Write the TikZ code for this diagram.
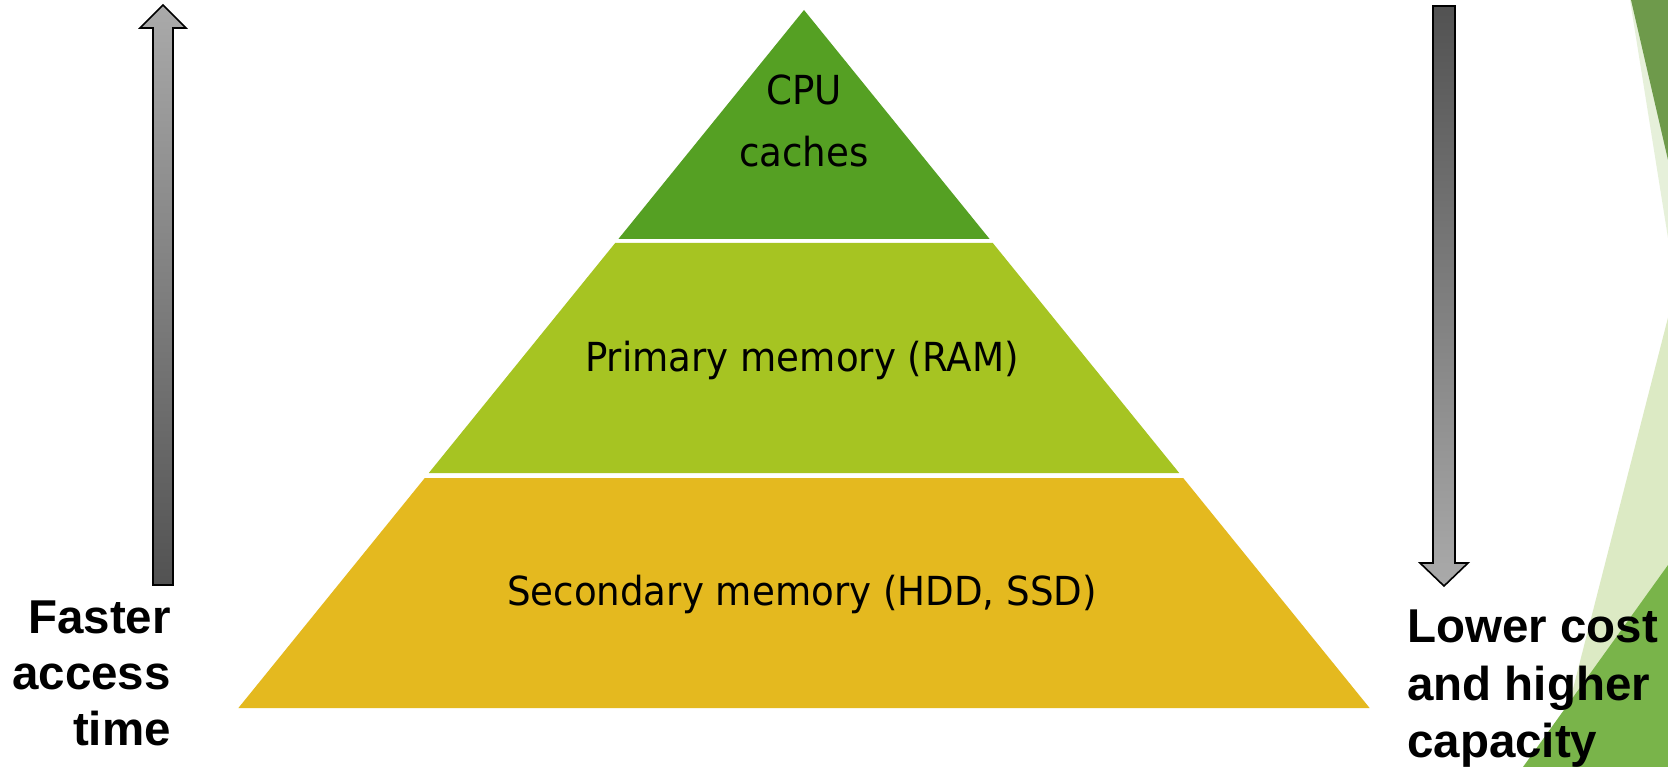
\documentclass[tikz,border=0pt]{standalone}
\usepackage{fontspec}
\newfontfamily\pyrfont[FakeStretch=0.93]{DejaVu Sans}
\newfontfamily\lblfont{Liberation Sans}
\definecolor{lvlA}{HTML}{55A023}
\definecolor{lvlB}{HTML}{A6C422}
\definecolor{lvlC}{HTML}{E4B91F}
\definecolor{decoDark}{HTML}{6E9A4B}
\definecolor{decoPale}{HTML}{E6F0DA}
\definecolor{decoLight}{HTML}{DCEAC4}
\definecolor{decoMid}{HTML}{79B44A}
\definecolor{grayLight}{HTML}{AAAAAA}
\definecolor{grayDark}{HTML}{525252}
\begin{document}
\begin{tikzpicture}[x=1pt,y=-1pt,
  pyrtext/.style={font=\pyrfont\fontsize{40}{48}\selectfont, text=black, inner sep=0pt, anchor=base},
  sidetext/.style={font=\lblfont\bfseries\fontsize{47.5}{56}\selectfont, text=black, inner sep=0pt},
  bigarrow/.style={draw=black, line width=1.6pt, line join=miter}]
\useasboundingbox (0,0) rectangle (1668,767);
\fill[white] (0,0) rectangle (1668,767);
% right-side decoration
\fill[decoPale] (1630,0) -- (1668,0) -- (1668,238) -- cycle;
\fill[decoDark] (1631,0) -- (1668,0) -- (1668,160) -- cycle;
\fill[decoLight] (1673,298) -- (1668,767) -- (1553,767) -- cycle;
\fill[decoMid] (1668,565) -- (1668,767) -- (1523,767) -- cycle;
% pyramid
\fill[lvlA] (804,10) -- (989.6,239) -- (618.4,239) -- cycle;
\fill[lvlB] (615.2,243) -- (992.8,243) -- (1179.2,473) -- (428.8,473) -- cycle;
\fill[lvlC] (424.8,478) -- (1183.2,478) -- (1369.6,708) -- (238.4,708) -- cycle;
\node[pyrtext] (cpu) at (804,105) {CPU};
\node[pyrtext] (caches) at (804,167) {caches};
\node[pyrtext] (ram) at (802,371) {Primary memory (RAM)};
\node[pyrtext] (sec) at (802,605) {Secondary memory (HDD, SSD)};
% left arrow (up)
\shade[top color=grayLight, bottom color=grayDark]
  (153,585) -- (153,28) -- (140,28) -- (163,5) -- (186,28) -- (173,28) -- (173,585) -- cycle;
\draw[bigarrow]
  (153,585) -- (153,28) -- (140,28) -- (163,5) -- (186,28) -- (173,28) -- (173,585) -- cycle;
% right arrow (down)
\shade[top color=grayDark, bottom color=grayLight]
  (1433,6) -- (1455,6) -- (1455,563) -- (1468,563) -- (1444,586) -- (1420,563) -- (1433,563) -- cycle;
\draw[bigarrow]
  (1433,6) -- (1455,6) -- (1455,563) -- (1468,563) -- (1444,586) -- (1420,563) -- (1433,563) -- cycle;
% labels
\node[sidetext, anchor=base east] (fast1) at (171,633) {Faster};
\node[sidetext, anchor=base east] (fast2) at (171,689) {access};
\node[sidetext, anchor=base east] (fast3) at (171,745) {time};
\node[sidetext, anchor=base west] (cost1) at (1407,642) {Lower cost};
\node[sidetext, anchor=base west] (cost2) at (1407,700) {and higher};
\node[sidetext, anchor=base west] (cost3) at (1407,757) {capacity};
\end{tikzpicture}
\end{document}
